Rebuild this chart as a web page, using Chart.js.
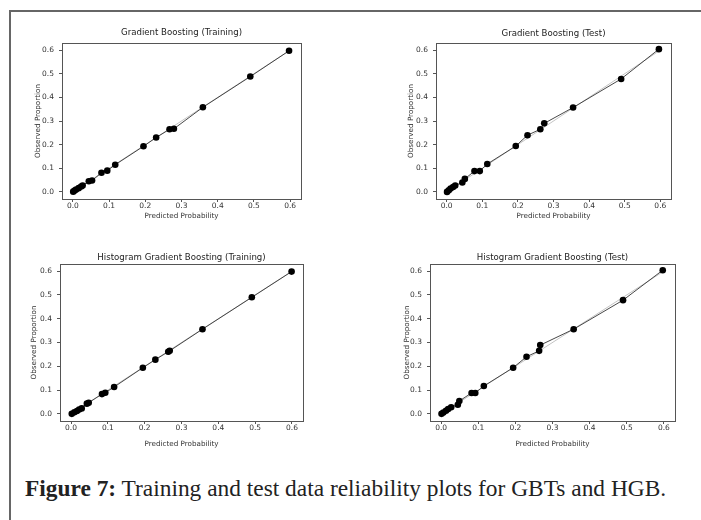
<!DOCTYPE html>
<html>
<head>
<meta charset="utf-8">
<script src="https://cdn.jsdelivr.net/npm/chart.js@4.4.1/dist/chart.umd.min.js"></script>
<style>
  html, body { margin: 0; padding: 0; background: #fff; }
  body { width: 701px; height: 520px; position: relative; overflow: hidden; }
  #frame { position: absolute; left: 9px; top: 10px; width: 760px; height: 560px;
           border-left: 2px solid #666; border-top: 2px solid #666; }
  canvas { position: absolute; }
  #caption { position: absolute; left: 25px; top: 475px; font-family: "Liberation Serif", serif;
             font-size: 23.4px; color: #222; white-space: nowrap; }
</style>
</head>
<body>
<div id="frame"></div>
<canvas id="c0"></canvas>
<canvas id="c1"></canvas>
<canvas id="c2"></canvas>
<canvas id="c3"></canvas>
<div id="caption"><b>Figure 7:</b> Training and test data reliability plots for GBTs and HGB.</div>
<script>
// --- data ---
const panelTitles = [
  'Gradient Boosting (Training)',
  'Gradient Boosting (Test)',
  'Histogram Gradient Boosting (Training)',
  'Histogram Gradient Boosting (Test)'
];
const xAxisTitle = 'Predicted Probability';
const yAxisTitle = 'Observed Proportion';
const tickValues = [0, 0.1, 0.2, 0.3, 0.4, 0.5, 0.6];
const axisRange = [-0.03, 0.63];
const refLine = [0, 0.6];

// predicted probability / observed proportion per panel
const gbTrainPred = [0.001, 0.005, 0.009, 0.016, 0.023, 0.027, 0.044, 0.053, 0.079, 0.095, 0.117, 0.195, 0.23, 0.267, 0.279, 0.359, 0.49, 0.597];
const gbTrainObs  = [0.001, 0.006, 0.01, 0.016, 0.023, 0.027, 0.045, 0.048, 0.081, 0.09, 0.115, 0.193, 0.23, 0.265, 0.267, 0.358, 0.488, 0.597];

const gbTestPred = [0.001, 0.006, 0.011, 0.018, 0.024, 0.044, 0.051, 0.078, 0.093, 0.114, 0.194, 0.227, 0.263, 0.274, 0.355, 0.49, 0.596];
const gbTestObs  = [0.0, 0.007, 0.014, 0.021, 0.027, 0.04, 0.055, 0.088, 0.088, 0.118, 0.194, 0.24, 0.265, 0.29, 0.357, 0.478, 0.604];

const hgbTrainPred = [0.002, 0.009, 0.016, 0.022, 0.029, 0.043, 0.048, 0.084, 0.093, 0.117, 0.195, 0.229, 0.264, 0.268, 0.357, 0.491, 0.599];
const hgbTrainObs  = [0.0, 0.007, 0.012, 0.018, 0.023, 0.043, 0.047, 0.083, 0.089, 0.113, 0.194, 0.228, 0.261, 0.265, 0.356, 0.49, 0.598];

const hgbTestPred = [0.001, 0.006, 0.013, 0.019, 0.027, 0.045, 0.049, 0.082, 0.092, 0.115, 0.194, 0.23, 0.264, 0.267, 0.357, 0.49, 0.597];
const hgbTestObs  = [0.0, 0.006, 0.013, 0.02, 0.028, 0.038, 0.054, 0.088, 0.088, 0.117, 0.194, 0.24, 0.265, 0.289, 0.356, 0.478, 0.604];

const panelPred = [gbTrainPred, gbTestPred, hgbTrainPred, hgbTestPred];
const panelObs  = [gbTrainObs, gbTestObs, hgbTrainObs, hgbTestObs];

// --- page layout (plot-area boxes in page pixels) ---
const panelBoxes = [
  { l: 62,  r: 301, t: 43,  b: 199, titleY: 33,  yTitleX: 38,  xTitleY: 216 },
  { l: 436, r: 671, t: 43,  b: 199, titleY: 34,  yTitleX: 411, xTitleY: 216 },
  { l: 60,  r: 303, t: 264, b: 421, titleY: 258, yTitleX: 34,  xTitleY: 444 },
  { l: 430, r: 675, t: 264, b: 421, titleY: 258, yTitleX: 407, xTitleY: 444 }
];

const FONT = '"DejaVu Sans", sans-serif';
const Y_AXIS_W = 42, X_AXIS_H = 34, TOP_H = 23, RIGHT_PAD = 8;

// full box around the plot area, like matplotlib spines
const boxPlugin = {
  id: 'axesBox',
  afterDatasetsDraw(chart) {
    const a = chart.chartArea, ctx = chart.ctx;
    ctx.save();
    ctx.strokeStyle = '#555';
    ctx.lineWidth = 1;
    ctx.strokeRect(Math.round(a.left) + 0.5, Math.round(a.top) + 0.5,
                   Math.round(a.right - a.left), Math.round(a.bottom - a.top));
    ctx.restore();
  }
};

function makePanel(i) {
  const box = panelBoxes[i];
  const canvas = document.getElementById('c' + i);
  const w = box.r - box.l + Y_AXIS_W + RIGHT_PAD;
  const h = box.b - box.t + TOP_H + X_AXIS_H;
  canvas.width = w; canvas.height = h;
  canvas.style.width = w + 'px'; canvas.style.height = h + 'px';
  canvas.style.left = (box.l - Y_AXIS_W) + 'px';
  canvas.style.top = (box.t - TOP_H) + 'px';

  const titleLine = 11;
  const titlePadTop = box.titleY - (box.t - TOP_H) - titleLine / 2;
  const points = panelPred[i].map((x, k) => ({ x: x, y: panelObs[i][k] }));
  const diag = refLine.map(v => ({ x: v, y: v }));

  const tickCfg = {
    font: { family: FONT, size: 7.5, lineHeight: 1 },
    color: '#333',
    callback: v => v.toFixed(1)
  };
  const gridCfg = { display: true, drawOnChartArea: false, drawTicks: true, tickLength: 3, tickColor: '#555' };
  const setTicks = s => { s.ticks = tickValues.map(v => ({ value: v })); };

  new Chart(canvas, {
    type: 'scatter',
    data: {
      datasets: [
        { data: diag, showLine: true, borderColor: '#c4c4c4', borderWidth: 1, pointRadius: 0, order: 2 },
        { data: points, showLine: true, borderColor: '#333', borderWidth: 0.9,
          pointRadius: 3.3, pointBackgroundColor: '#000', pointBorderWidth: 0, order: 1 }
      ]
    },
    options: {
      responsive: false,
      animation: false,
      devicePixelRatio: 1,
      layout: { padding: { left: 0, right: RIGHT_PAD, top: 0, bottom: 0 } },
      plugins: {
        legend: { display: false },
        tooltip: { enabled: false },
        title: {
          display: true, text: panelTitles[i], fullSize: false, color: '#222',
          font: { family: FONT, size: 8.6, weight: 'normal', lineHeight: titleLine + 'px' },
          padding: { top: titlePadTop, bottom: TOP_H - titlePadTop - titleLine }
        }
      },
      scales: {
        x: {
          type: 'linear', min: axisRange[0], max: axisRange[1],
          afterBuildTicks: setTicks,
          afterFit: s => { s.height = X_AXIS_H; },
          grid: gridCfg,
          border: { display: true, color: '#555', width: 1 },
          ticks: Object.assign({ padding: 0, maxRotation: 0 }, tickCfg),
          title: {
            display: true, text: xAxisTitle, color: '#333',
            font: { family: FONT, size: 7.2, lineHeight: 1 },
            padding: { top: 0, bottom: X_AXIS_H - (box.xTitleY - box.b) - 3.6 }
          }
        },
        y: {
          type: 'linear', min: axisRange[0], max: axisRange[1],
          afterBuildTicks: setTicks,
          afterFit: s => { s.width = Y_AXIS_W; },
          grid: gridCfg,
          border: { display: true, color: '#555', width: 1 },
          ticks: Object.assign({ padding: 5 }, tickCfg),
          title: {
            display: true, text: yAxisTitle, color: '#333',
            font: { family: FONT, size: 7.2, lineHeight: 1 },
            padding: { top: box.yTitleX - (box.l - Y_AXIS_W) - 3.6, bottom: 0 }
          }
        }
      }
    },
    plugins: [boxPlugin]
  });
}

for (let i = 0; i < panelBoxes.length; i++) makePanel(i);
</script>
</body>
</html>
